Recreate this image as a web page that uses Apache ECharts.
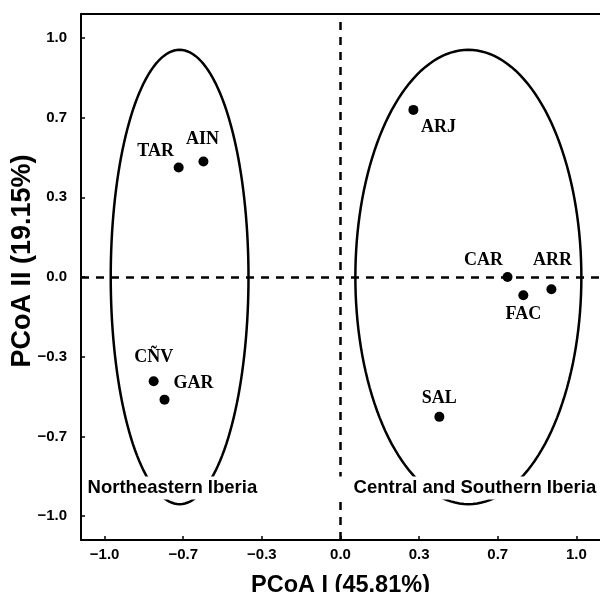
<!DOCTYPE html>
<html>
<head>
<meta charset="utf-8">
<script src="https://cdn.jsdelivr.net/npm/echarts@6.0.0/dist/echarts.min.js"></script>
<style>html,body{margin:0;padding:0;background:#fff}#c{width:600px;height:592px}</style>
</head>
<body>
<div id="c"></div>
<script>
// ---- data ----
const siteNames = ['TAR', 'AIN', 'CÑV', 'GAR', 'ARJ', 'CAR', 'FAC', 'ARR', 'SAL'];
const pcoa1 = [-0.686, -0.581, -0.792, -0.746, 0.309, 0.708, 0.775, 0.894, 0.419];
const pcoa2 = [0.458, 0.483, -0.436, -0.513, 0.699, 0.000, -0.076, -0.051, -0.585];
// ellipses: [centerX, centerY, radiusX, radiusY]
const ellipseNE = [-0.682, 0.0, 0.292, 0.95];
const ellipseCS = [0.542, 0.0, 0.479, 0.95];
const tickValues = [-1, -0.6667, -0.3333, 0, 0.3333, 0.6667, 1];
const tickLabels = ['\u22121.0', '\u22120.7', '\u22120.3', '0.0', '0.3', '0.7', '1.0'];
const groupNames = ['Northeastern Iberia', 'Central and Southern Iberia'];
const groupAnchorX = [-1.089, -0.008];
const groupAnchorY = [-0.882, -0.882];
const xTitle = 'PCoA I (45.81%)';
const yTitle = 'PCoA II (19.15%)';

// ---- layout / style ----
const labelOffsets = {
  'TAR': [-23, -16], 'AIN': [-1, -22], 'CÑV': [0, -24], 'GAR': [29, -16],
  'ARJ': [25, 17], 'CAR': [-24, -17], 'FAC': [0, 19], 'ARR': [1, -29], 'SAL': [0, -19]
};
const groupPadding = [[3, 4, 1, 4], [3, 4, 1, 15]];
const sans = '"Liberation Sans", Arial, sans-serif';
const serif = '"Liberation Serif", "Times New Roman", serif';

function tickFmt(v) {
  let best = 0, d = Infinity;
  tickValues.forEach((t, i) => { if (Math.abs(t - v) < d) { d = Math.abs(t - v); best = i; } });
  return tickLabels[best];
}

const axisCommon = {
  type: 'value', min: -1.1, max: 1.1,
  splitLine: { show: false },
  axisLine: { show: true, onZero: false, lineStyle: { color: '#000', width: 2 } },
  axisTick: { show: true, inside: true, length: 4, customValues: tickValues, lineStyle: { color: '#000', width: 1.5 } },
  axisLabel: { customValues: tickValues, formatter: tickFmt, color: '#000', fontFamily: sans, fontWeight: 'bold', fontSize: 15 },
  nameLocation: 'middle',
  nameMoveOverlap: false,
  nameTextStyle: { color: '#000', fontFamily: sans, fontWeight: 'bold', fontSize: 23.5 }
};

function ellipseItem(params, api) {
  const cx = api.value(0), cy = api.value(1), rx = api.value(2), ry = api.value(3);
  const pts = [];
  const n = 160;
  for (let i = 0; i < n; i++) {
    const t = 2 * Math.PI * i / n;
    pts.push(api.coord([cx + rx * Math.cos(t), cy + ry * Math.sin(t)]));
  }
  return { type: 'polygon', shape: { points: pts }, style: { fill: 'none', stroke: '#000', lineWidth: 2.5 } };
}

const chart = echarts.init(document.getElementById('c'), null, { renderer: 'canvas' });
chart.setOption({
  backgroundColor: '#fff',
  animation: false,
  grid: { left: 81, right: 0, top: 14, bottom: 52, show: false, containLabel: false, outerBoundsMode: 'none' },
  xAxis: [
    Object.assign({}, axisCommon, {
      name: xTitle, nameGap: 34,
      axisLabel: Object.assign({}, axisCommon.axisLabel, { margin: 7 })
    }),
    {
      type: 'value', min: -1.1, max: 1.1, position: 'top',
      splitLine: { show: false }, axisTick: { show: false }, axisLabel: { show: false },
      axisLine: { show: true, onZero: false, lineStyle: { color: '#000', width: 2 } }
    }
  ],
  yAxis: Object.assign({}, axisCommon, {
    name: yTitle, nameGap: 45,
    nameTextStyle: Object.assign({}, axisCommon.nameTextStyle, { fontSize: 27, padding: [0, 0, 0, 32] }),
    axisLabel: Object.assign({}, axisCommon.axisLabel, { margin: 14 })
  }),
  series: [
    {
      type: 'custom', renderItem: ellipseItem, silent: true, z: 2,
      encode: { x: 0, y: 1 },
      data: [ellipseNE, ellipseCS]
    },
    {
      type: 'scatter', symbol: 'circle', symbolSize: 10, z: 5,
      itemStyle: { color: '#000', opacity: 1 },
      data: siteNames.map((n, i) => ({
        name: n, value: [pcoa1[i], pcoa2[i]],
        label: { offset: labelOffsets[n] }
      })),
      label: {
        show: true, position: 'inside', formatter: '{b}', color: '#000',
        fontFamily: serif, fontWeight: 'bold', fontSize: 18, align: 'center', verticalAlign: 'middle'
      },
      markLine: {
        silent: true, symbol: 'none', animation: false,
        label: { show: false },
        lineStyle: { color: '#000', type: [8, 7], width: 2.5, opacity: 1 },
        data: [{ xAxis: 0 }, { yAxis: 0 }]
      }
    },
    {
      type: 'scatter', symbolSize: 0, silent: true, z: 6,
      itemStyle: { opacity: 1 },
      data: groupNames.map((g, i) => ({
        name: g, value: [groupAnchorX[i], groupAnchorY[i]],
        label: { padding: groupPadding[i] }
      })),
      label: {
        show: true, position: 'right', distance: 0, formatter: '{b}', color: '#000',
        backgroundColor: '#fff',
        fontFamily: sans, fontWeight: 'bold', fontSize: 18.5
      }
    }
  ]
});
</script>
</body>
</html>
